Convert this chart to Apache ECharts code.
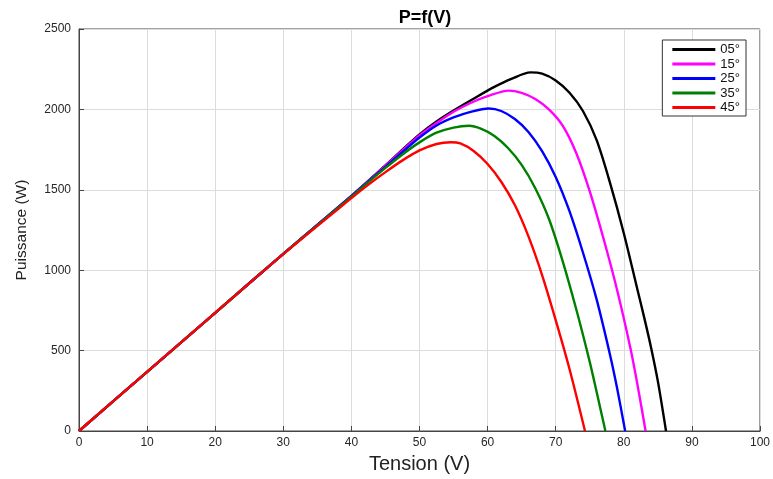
<!DOCTYPE html>
<html>
<head>
<meta charset="utf-8">
<script src="https://cdn.jsdelivr.net/npm/echarts@6/dist/echarts.min.js"></script>
<style>
  html, body { margin: 0; padding: 0; background: #fff; }
  #chart { width: 773px; height: 479px; }
</style>
</head>
<body>
<div id="chart"></div>
<script>
// values: voltage (V) / power (W) per curve
const names = ['05°', '15°', '25°', '35°', '45°']
const colors = ['#000000', '#ff00ff', '#0000ff', '#008000', '#ff0000']

const v05 = [0, 10, 20, 30, 40, 45, 47.5, 50, 52.5, 55, 58, 61, 63.5, 66.3, 68, 70, 72, 74, 76, 78, 80, 82, 83, 84, 85, 86.2]
const p05 = [0, 368, 735, 1102, 1462, 1652, 1750, 1845, 1925, 1993, 2068, 2140, 2190, 2230, 2222, 2180, 2105, 1990, 1810, 1540, 1230, 880, 705, 520, 310, 0]

const v15 = [0, 10, 20, 30, 40, 45, 47.5, 50, 52.5, 55, 57.5, 60, 63.1, 65, 67, 69, 71, 73, 75, 77, 79, 81, 82, 83.2]
const p15 = [0, 368, 735, 1102, 1462, 1650, 1745, 1838, 1915, 1985, 2040, 2082, 2117, 2103, 2065, 2000, 1900, 1730, 1490, 1200, 880, 510, 290, 0]

const v25 = [0, 10, 20, 30, 40, 42.5, 45, 47.5, 50, 52.5, 55, 57.5, 60.2, 62, 64, 66, 68, 70, 72, 74, 76, 78, 79, 80.2]
const p25 = [0, 368, 735, 1102, 1460, 1552, 1643, 1735, 1825, 1900, 1950, 1985, 2006, 1990, 1940, 1860, 1740, 1580, 1370, 1110, 820, 470, 270, 0]

const v35 = [0, 10, 20, 30, 40, 42.5, 45, 47.5, 50, 52.5, 55, 57.3, 59, 61, 63, 65, 67, 69, 71, 73, 75, 76, 77.3]
const p35 = [0, 368, 735, 1102, 1457, 1548, 1636, 1720, 1795, 1855, 1887, 1898, 1880, 1835, 1760, 1655, 1510, 1320, 1060, 760, 430, 245, 0]

const v45 = [0, 10, 20, 30, 40, 42.5, 45, 47.5, 50, 52.5, 54.6, 56, 58, 60, 62, 64, 66, 68, 70, 72, 74.3]
const p45 = [0, 368, 735, 1100, 1448, 1532, 1610, 1683, 1745, 1785, 1796, 1788, 1740, 1660, 1550, 1405, 1210, 970, 690, 390, 0]

const volts = [v05, v15, v25, v35, v45]
const powers = [p05, p15, p25, p35, p45]

const chart = echarts.init(document.getElementById('chart'))

const axisText = '#262626'
const gridColor = '#dcdcdc'
const font = 'Liberation Sans, Arial, sans-serif'

const series = names.map((name, i) => ({
  name,
  type: 'line',
  data: volts[i].map((v, k) => [v, powers[i][k]]),
  smooth: 0.3,
  showSymbol: false,
  symbol: 'none',
  lineStyle: { color: colors[i], width: 2.4 },
  itemStyle: { color: colors[i] }
}))

chart.setOption({
  backgroundColor: '#fff',
  animation: false,
  title: {
    text: 'P=f(V)',
    left: 420,
    top: 4,
    textAlign: 'center',
    textStyle: { fontFamily: font, fontSize: 18, fontWeight: 'bold', color: '#000' }
  },
  legend: {
    orient: 'vertical',
    right: 27,
    top: 40,
    data: names,
    icon: 'rect',
    itemWidth: 43,
    itemHeight: 3,
    itemGap: 1.5,
    padding: [3, 6, 2, 10],
    borderColor: '#333',
    borderWidth: 1,
    borderRadius: 0,
    backgroundColor: '#fff',
    textStyle: { fontFamily: font, fontSize: 13, color: '#111' }
  },
  grid: {
    left: 79,
    right: 11,
    top: 29,
    bottom: 43,
    show: true,
    borderColor: '#444',
    borderWidth: 1
  },
  xAxis: {
    type: 'value',
    min: 0,
    max: 100,
    interval: 10,
    name: 'Tension (V)',
    nameLocation: 'middle',
    nameGap: 23,
    nameTextStyle: { fontFamily: font, fontSize: 20, color: '#222' },
    axisLine: { show: true, lineStyle: { color: '#444', width: 1 } },
    axisTick: { show: true, inside: true, length: 5, lineStyle: { color: '#444' } },
    axisLabel: { color: axisText, fontSize: 12, margin: 6, fontFamily: font },
    splitLine: { show: true, lineStyle: { color: gridColor, width: 1 } }
  },
  yAxis: {
    type: 'value',
    min: 0,
    max: 2500,
    interval: 500,
    name: 'Puissance (W)',
    nameLocation: 'middle',
    nameGap: 49,
    nameTextStyle: { fontFamily: font, fontSize: 15.5, color: '#222' },
    axisLine: { show: true, lineStyle: { color: '#444', width: 1 } },
    axisTick: { show: true, inside: true, length: 5, lineStyle: { color: '#444' } },
    axisLabel: { color: axisText, fontSize: 12, margin: 8, fontFamily: font, formatter: value => String(value) },
    splitLine: { show: true, lineStyle: { color: gridColor, width: 1 } }
  },
  series
})
</script>
</body>
</html>
